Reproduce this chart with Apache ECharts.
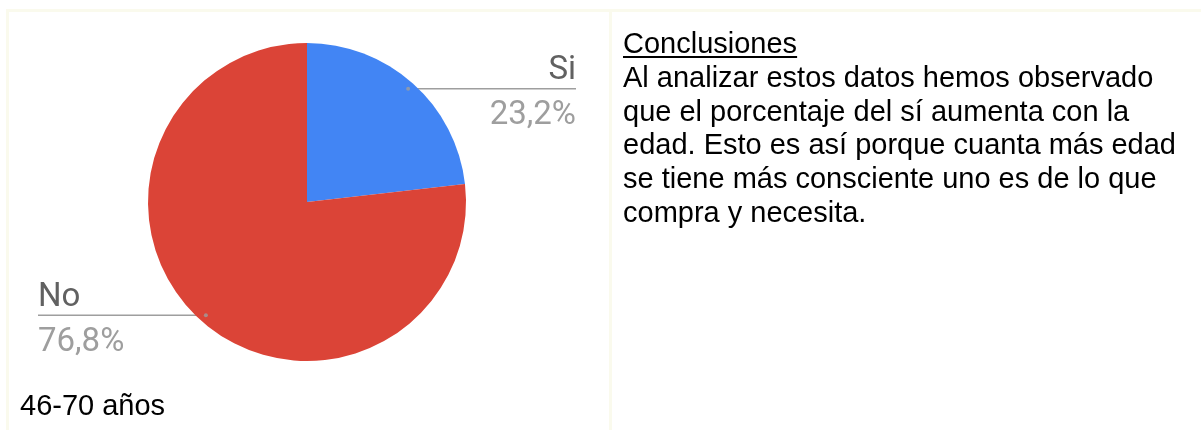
<!DOCTYPE html>
<html>
<head>
<meta charset="utf-8">
<script src="https://cdn.jsdelivr.net/npm/echarts@6/dist/echarts.min.js"></script>
<style>
  body { margin: 0; background: #fff; }
  #wrap { position: relative; width: 1201px; height: 430px; overflow: hidden; }
  #chart { position: absolute; left: 0; top: 0; width: 1201px; height: 430px; }
  .rule { position: absolute; background: #fafaed; }
  #notes {
    position: absolute; left: 623px; top: 27px; width: 574px;
    font-family: "Liberation Sans", Arial, sans-serif; font-size: 29px;
    line-height: 33.8px; color: #000;
  }
  #notes u { text-decoration-thickness: 2px; text-underline-offset: 3px; }
</style>
</head>
<body>
<div id="wrap">
  <div class="rule" style="left:6px;top:9px;width:1195px;height:3px"></div>
  <div class="rule" style="left:6px;top:9px;width:3px;height:421px"></div>
  <div class="rule" style="left:609px;top:9px;width:3px;height:421px"></div>
  <div id="chart"></div>
  <div id="notes"><u>Conclusiones</u><br>Al analizar estos datos hemos observado que el porcentaje del sí aumenta con la edad. Esto es así porque cuanta más edad se tiene más consciente uno es de lo que compra y necesita.</div>
</div>
<script>
// datos del gráfico
var categorias = ['Si', 'No'];
var valores = [23.2, 76.8];
var colores = ['#4285f4', '#db4437'];
var titulo = '46-70 años';

var centro = [307, 202];
var radio = 159;

// puntos del arranque de cada guía, en el ángulo medio de cada porción
var total = valores.reduce(function (a, b) { return a + b; }, 0);
var acumulado = 0;
var puntos = valores.map(function (v) {
  var medio = acumulado + v / 2;
  acumulado += v;
  return [0.955, medio / total * 100];
});

var chart = echarts.init(document.getElementById('chart'));

var option = {
  animation: false,
  title: {
    text: titulo,
    left: 15,
    top: 387,
    textStyle: {
      fontFamily: 'Liberation Sans',
      fontSize: 29,
      fontWeight: 'normal',
      color: '#000'
    }
  },
  polar: { center: centro, radius: radio },
  angleAxis: { type: 'value', min: 0, max: 100, startAngle: 90, clockwise: true, show: false },
  radiusAxis: { type: 'value', min: 0, max: 1, show: false },
  series: [
    {
      type: 'pie',
      left: 0,
      top: 0,
      width: 614,
      height: 430,
      center: centro,
      radius: radio,
      startAngle: 90,
      clockwise: true,
      color: colores,
      emphasis: { disabled: true },
      label: {
        position: 'outside',
        alignTo: 'edge',
        edgeDistance: 38,
        fontFamily: 'Roboto',
        formatter: function (p) {
          return '{n|' + p.name + '}\n{p|' + p.percent.toFixed(1).replace('.', ',') + '%}';
        },
        rich: {
          n: { fontFamily: 'Roboto', fontSize: 33, color: '#616161', lineHeight: 45 },
          p: { fontFamily: 'Roboto', fontSize: 33, color: '#9e9e9e', lineHeight: 45 }
        }
      },
      labelLine: {
        show: true,
        length: 0,
        length2: 10,
        lineStyle: { color: '#9e9e9e', width: 1.5 }
      },
      labelLayout: function (params) {
        var pts = params.labelLinePoints;
        if (!pts) return;
        var r = params.labelRect;
        var k = 0.955;
        var sx = centro[0] + (pts[0][0] - centro[0]) * k;
        var sy = centro[1] + (pts[0][1] - centro[1]) * k;
        var derecha = pts[2][0] > pts[0][0];
        var fin = derecha ? r.x + r.width : r.x;
        return {
          dy: sy - pts[2][1] + 5,
          labelLinePoints: [[sx, sy], [sx, sy], [fin, sy]]
        };
      },
      data: categorias.map(function (c, i) {
        return { name: c, value: valores[i] };
      })
    },
    {
      type: 'scatter',
      coordinateSystem: 'polar',
      symbolSize: 4,
      z: 5,
      silent: true,
      itemStyle: { color: '#9e9e9e' },
      data: puntos
    }
  ]
};

chart.setOption(option);
</script>
</body>
</html>
